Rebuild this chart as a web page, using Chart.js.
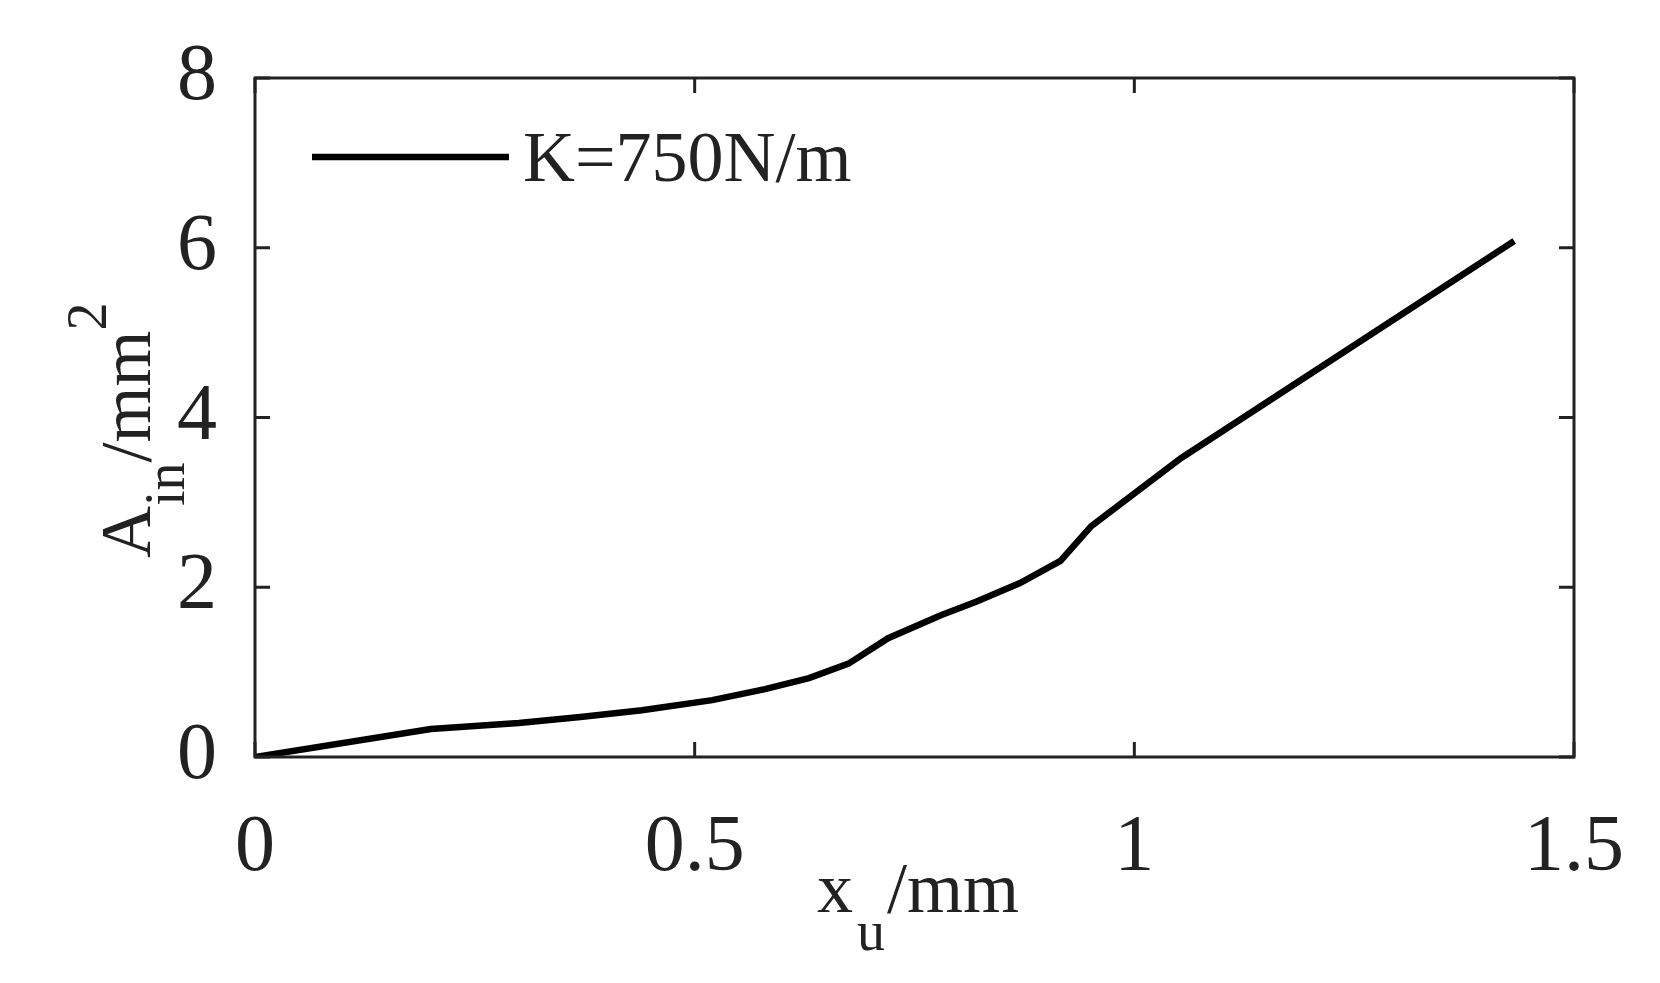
<!DOCTYPE html>
<html><head><script src="https://cdn.jsdelivr.net/npm/chart.js@4"></script>
<style>body{margin:0;background:#fff}#w{width:1660px;height:983px}</style></head>
<body><div id="w"><canvas id="c"></canvas></div>
<script>
const xValues=[0,0.2,0.3,0.37,0.44,0.52,0.58,0.63,0.675,0.72,0.78,0.82,0.87,0.916,0.951,1.053,1.432];
const yValues=[0,0.33,0.4,0.47,0.55,0.67,0.8,0.93,1.1,1.4,1.67,1.83,2.05,2.31,2.72,3.52,6.08];
const xTicks=[0,0.5,1,1.5];
const yTicks=[0,2,4,6,8];
const seriesName='K=750N/m';
const F='"Liberation Serif", serif';
const deco={id:'deco',afterDraw(ch){
 const c=ch.ctx,a=ch.chartArea,xs=ch.scales.x,ys=ch.scales.y;
 c.save();c.strokeStyle='#222';c.lineWidth=3;
 c.strokeRect(a.left,a.top,a.right-a.left,a.bottom-a.top);
 const L=15;
 xTicks.forEach(v=>{const p=xs.getPixelForValue(v);c.beginPath();c.moveTo(p,a.bottom);c.lineTo(p,a.bottom-L);c.moveTo(p,a.top);c.lineTo(p,a.top+L);c.stroke();});
 yTicks.forEach(v=>{const p=ys.getPixelForValue(v);c.beginPath();c.moveTo(a.left,p);c.lineTo(a.left+L,p);c.moveTo(a.right,p);c.lineTo(a.right-L,p);c.stroke();});
 // legend
 c.strokeStyle='#000';c.lineWidth=6.5;c.beginPath();c.moveTo(312,157);c.lineTo(509,157);c.stroke();
 c.fillStyle='#222';c.font='72px '+F;c.textBaseline='middle';c.textAlign='left';c.fillText(seriesName,523,162);
 // x title
 c.textBaseline='alphabetic';
 c.font='72px '+F;c.fillText('x',817,912);
 c.font='56px '+F;c.fillText('u',857,950);
 c.font='72px '+F;c.fillText('/mm',887,912);
 // y title
 c.translate(150,558);c.rotate(-Math.PI/2);
 let p=0;
 c.font='72px '+F;c.fillText('A',p,0);p+=c.measureText('A').width;
 c.font='56px '+F;c.fillText('in',p,34);p+=c.measureText('in').width;
 c.font='72px '+F;c.fillText('/mm',p,0);p+=c.measureText('/mm').width;
 c.font='56px '+F;c.fillText('2',p,-44);
 c.restore();
}};
new Chart(document.getElementById('c'),{type:'line',
 data:{datasets:[{data:xValues.map((x,i)=>({x,y:yValues[i]})),borderColor:'#000',borderWidth:6.5,pointRadius:0,tension:0,fill:false}]},
 options:{responsive:true,maintainAspectRatio:false,animation:false,
  layout:{padding:{top:61,right:61,left:0,bottom:0}},
  plugins:{legend:{display:false},tooltip:{enabled:false}},
  scales:{
   x:{type:'linear',min:0,max:1.5,afterFit:s=>{s.height=226},
    afterBuildTicks:s=>{s.ticks=xTicks.map(v=>({value:v}))},
    grid:{display:false},border:{display:false},
    ticks:{color:'#222',font:{family:F,size:80},padding:36,maxRotation:0,callback:v=>String(v)}},
   y:{min:0,max:8,afterFit:s=>{s.width=255},
    afterBuildTicks:s=>{s.ticks=yTicks.map(v=>({value:v}))},
    grid:{display:false},border:{display:false},
    ticks:{color:'#222',font:{family:F,size:80},padding:30,callback:v=>String(v)}}
  }},plugins:[deco]});
</script></body></html>
